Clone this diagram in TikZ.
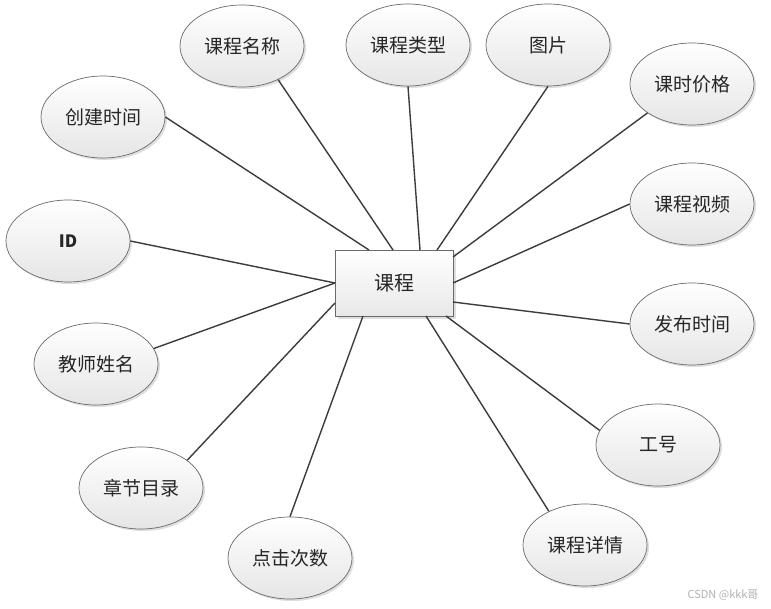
\documentclass[tikz,border=0pt]{standalone}
\usepackage{fontspec}
\newfontfamily\cjk{Noto Sans CJK SC}
\usetikzlibrary{shapes.geometric,shadows}
\definecolor{edgecol}{HTML}{3C3C3C}
\definecolor{bordercol}{HTML}{6A6A6A}
\tikzset{
  attr/.style={ellipse, draw=bordercol, line width=0.7pt, minimum width=124pt, minimum height=82pt, inner sep=0pt,
    top color=white, bottom color=black!10,
    drop shadow={shadow xshift=2pt, shadow yshift=-2pt, fill=black!25, opacity=0.5},
    font=\cjk\fontsize{19}{19}\selectfont, text=black!85},
  entity/.style={rectangle, draw=bordercol, line width=0.9pt, minimum width=118pt, minimum height=66pt, inner sep=0pt,
    top color=white, bottom color=black!9,
    drop shadow={shadow xshift=3pt, shadow yshift=-3pt, fill=black!25, opacity=0.5},
    font=\cjk\fontsize{20}{20}\selectfont, text=black!85},
  link/.style={draw=edgecol, line width=1.4pt}
}
\begin{document}
\begin{tikzpicture}[x=1pt,y=-1pt]
\useasboundingbox[fill=white] (0,0) rectangle (771,609);
\node[entity] (c) at (394,283) {课程};
\node[attr] (e1) at (103,117) {创建时间};
\node[attr] (e2) at (242,46) {课程名称};
\node[attr] (e3) at (408,45) {课程类型};
\node[attr] (e4) at (548,45) {图片};
\node[attr] (e5) at (692,84) {课时价格};
\node[attr] (e6) at (692,204) {课程视频};
\node[attr] (e7) at (692,324) {发布时间};
\node[attr] (e8) at (658,445) {工号};
\node[attr] (e9) at (585,545) {课程详情};
\node[attr] (e10) at (290,558) {点击次数};
\node[attr] (e11) at (141,488) {章节目录};
\node[attr] (e12) at (96,364) {教师姓名};
\node[attr, font=\cjk\bfseries\fontsize{17}{17}\selectfont] (e13) at (68,241) {ID};
\coordinate (a1) at (369,250);
\coordinate (a2) at (393,250);
\coordinate (a3) at (420,250);
\coordinate (a4) at (437,250);
\coordinate (a5) at (453,257);
\coordinate (a6) at (453,283);
\coordinate (a7) at (453,302);
\coordinate (a8) at (446,316);
\coordinate (a9) at (426,316);
\coordinate (a10) at (363,316);
\coordinate (a11) at (335,303);
\coordinate (a12) at (335,283);
\coordinate (a13) at (335,283);
\draw[link] (a1) -- (e1.east);
\draw[link] (a2) -- (e2.-43);
\draw[link] (a3) -- (e3.south);
\draw[link] (a4) -- (e4.south);
\draw[link] (a5) -- (e5.-147);
\draw[link] (a6) -- (e6.west);
\draw[link] (a7) -- (e7.west);
\draw[link] (a8) -- (e8.166);
\draw[link] (a9) -- (e9.137);
\draw[link] (a10) -- (e10.north);
\draw[link] (a11) -- (e11.31);
\draw[link] (a12) -- (e12.15);
\draw[link] (a13) -- (e13.east);
\node[font=\cjk\fontsize{11}{11}\selectfont, text=black!30, anchor=east] (wm) at (762,595) {CSDN @kkk哥};
\end{tikzpicture}
\end{document}
